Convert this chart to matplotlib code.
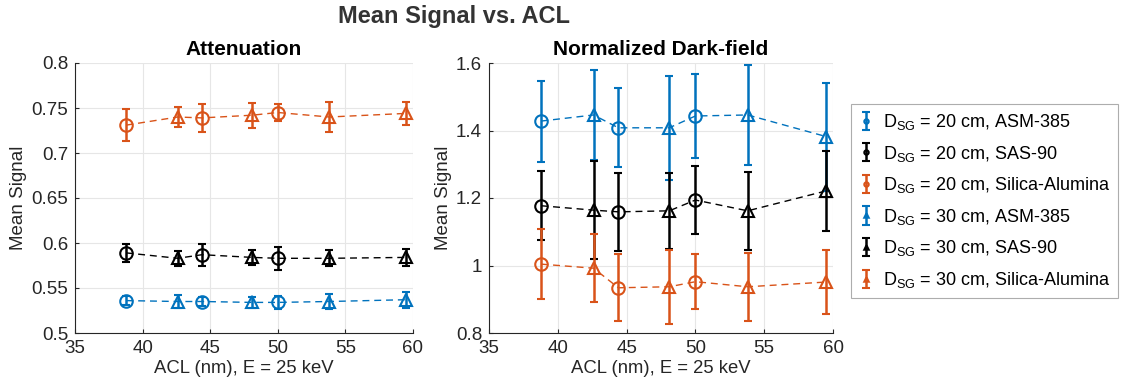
import numpy as np
import matplotlib
matplotlib.use("Agg")
import matplotlib.pyplot as plt

plt.rcParams['font.family'] = ['Liberation Sans', 'DejaVu Sans']
plt.rcParams['mathtext.fontset'] = 'custom'
plt.rcParams['mathtext.rm'] = 'Liberation Sans'
plt.rcParams['mathtext.it'] = 'Liberation Sans:italic'

# ACL positions (nm)
x20 = [38.8, 44.4, 50.0]
x30 = [42.6, 48.1, 53.8, 59.5]

materials = ["ASM-385", "SAS-90", "Silica-Alumina"]
colors = ["#0072BD", "#000000", "#D95319"]

# Attenuation mean signal and error
att20 = {
    "ASM-385": [0.536, 0.535, 0.534],
    "SAS-90": [0.589, 0.587, 0.583],
    "Silica-Alumina": [0.731, 0.739, 0.745],
}
att20_err = {
    "ASM-385": [0.005, 0.005, 0.007],
    "SAS-90": [0.010, 0.012, 0.013],
    "Silica-Alumina": [0.018, 0.016, 0.009],
}
att30 = {
    "ASM-385": [0.535, 0.534, 0.535, 0.537],
    "SAS-90": [0.583, 0.584, 0.583, 0.584],
    "Silica-Alumina": [0.740, 0.742, 0.740, 0.744],
}
att30_err = {
    "ASM-385": [0.007, 0.006, 0.008, 0.009],
    "SAS-90": [0.008, 0.008, 0.009, 0.009],
    "Silica-Alumina": [0.011, 0.014, 0.017, 0.013],
}

# Normalized dark-field mean signal and error
df20 = {
    "ASM-385": [1.428, 1.408, 1.443],
    "SAS-90": [1.177, 1.159, 1.194],
    "Silica-Alumina": [1.004, 0.934, 0.952],
}
df20_err = {
    "ASM-385": [0.120, 0.117, 0.123],
    "SAS-90": [0.102, 0.116, 0.100],
    "Silica-Alumina": [0.104, 0.099, 0.082],
}
df30 = {
    "ASM-385": [1.446, 1.408, 1.446, 1.382],
    "SAS-90": [1.164, 1.162, 1.162, 1.221],
    "Silica-Alumina": [0.992, 0.937, 0.937, 0.951],
}
df30_err = {
    "ASM-385": [0.133, 0.154, 0.149, 0.160],
    "SAS-90": [0.146, 0.113, 0.115, 0.119],
    "Silica-Alumina": [0.100, 0.110, 0.100, 0.095],
}

fig = plt.figure(figsize=(11.26, 3.89), dpi=100)
ax1 = fig.add_axes([75/1126, 1-333/389, 338/1126, 270/389])
ax2 = fig.add_axes([489/1126, 1-333/389, 344/1126, 270/389])

axis_col = "#262626"
handles = []
labels = []

def draw(ax, d20, e20, d30, e30, collect):
    for mat, col in zip(materials, colors):
        xs = np.concatenate([x20, x30])
        ys = np.concatenate([d20[mat], d30[mat]])
        order = np.argsort(xs)
        ax.plot(xs[order], ys[order], linestyle=(0, (5, 3.5)), color=col, lw=1.0, zorder=2)
    for dsg, dd, ee, xx, mk in [(20, d20, e20, x20, 'o'), (30, d30, e30, x30, '^')]:
        for mat, col in zip(materials, colors):
            h = ax.errorbar(xx, dd[mat], yerr=ee[mat], fmt=mk, color=col,
                            mfc='none', mec=col, ms=9, mew=1.5, elinewidth=1.8,
                            capsize=3, capthick=1.8, zorder=3)
            if collect:
                handles.append(h)
                labels.append(r"D$_{\mathrm{SG}}$ = %d cm, %s" % (dsg, mat))

draw(ax1, att20, att20_err, att30, att30_err, True)
draw(ax2, df20, df20_err, df30, df30_err, False)

for ax, ylim, yticks, ytl, title in [
    (ax1, (0.5, 0.8), [0.5, 0.55, 0.6, 0.65, 0.7, 0.75, 0.8],
     ["0.5", "0.55", "0.6", "0.65", "0.7", "0.75", "0.8"], "Attenuation"),
    (ax2, (0.8, 1.6), [0.8, 1.0, 1.2, 1.4, 1.6],
     ["0.8", "1", "1.2", "1.4", "1.6"], "Normalized Dark-field"),
]:
    ax.set_xlim(35, 60)
    ax.set_ylim(*ylim)
    ax.set_xticks([35, 40, 45, 50, 55, 60])
    ax.set_yticks(yticks)
    ax.set_yticklabels(ytl)
    ax.grid(True, color="#e6e6e6", lw=0.8)
    ax.set_axisbelow(True)
    for s in ["top", "right"]:
        ax.spines[s].set_visible(False)
    for s in ["left", "bottom"]:
        ax.spines[s].set_color(axis_col)
        ax.spines[s].set_linewidth(0.8)
    ax.tick_params(direction='in', length=3, colors=axis_col, labelsize=13.5, pad=5)
    ax.set_xlabel("ACL (nm), E = 25 keV", fontsize=13.3, color=axis_col, labelpad=2)
    ax.set_ylabel("Mean Signal", fontsize=13.5, color=axis_col, labelpad=3)
    ax.set_title(title, fontsize=15, fontweight='bold', color='black', pad=6)

fig.text(454/1126, 1-17/389, "Mean Signal vs. ACL", ha='center', va='center',
         fontsize=17, fontweight='bold', color="#333333")

leg = fig.legend(handles, labels, loc='upper left',
                 bbox_to_anchor=(851/1126, 1-104/389), fontsize=13,
                 frameon=True, fancybox=False, edgecolor="#999999",
                 markerscale=0.35, handlelength=0.8, handletextpad=0.5,
                 labelspacing=0.64, borderpad=0.45, borderaxespad=0)
leg.get_frame().set_linewidth(0.8)

fig.savefig("out.png", dpi=100)
